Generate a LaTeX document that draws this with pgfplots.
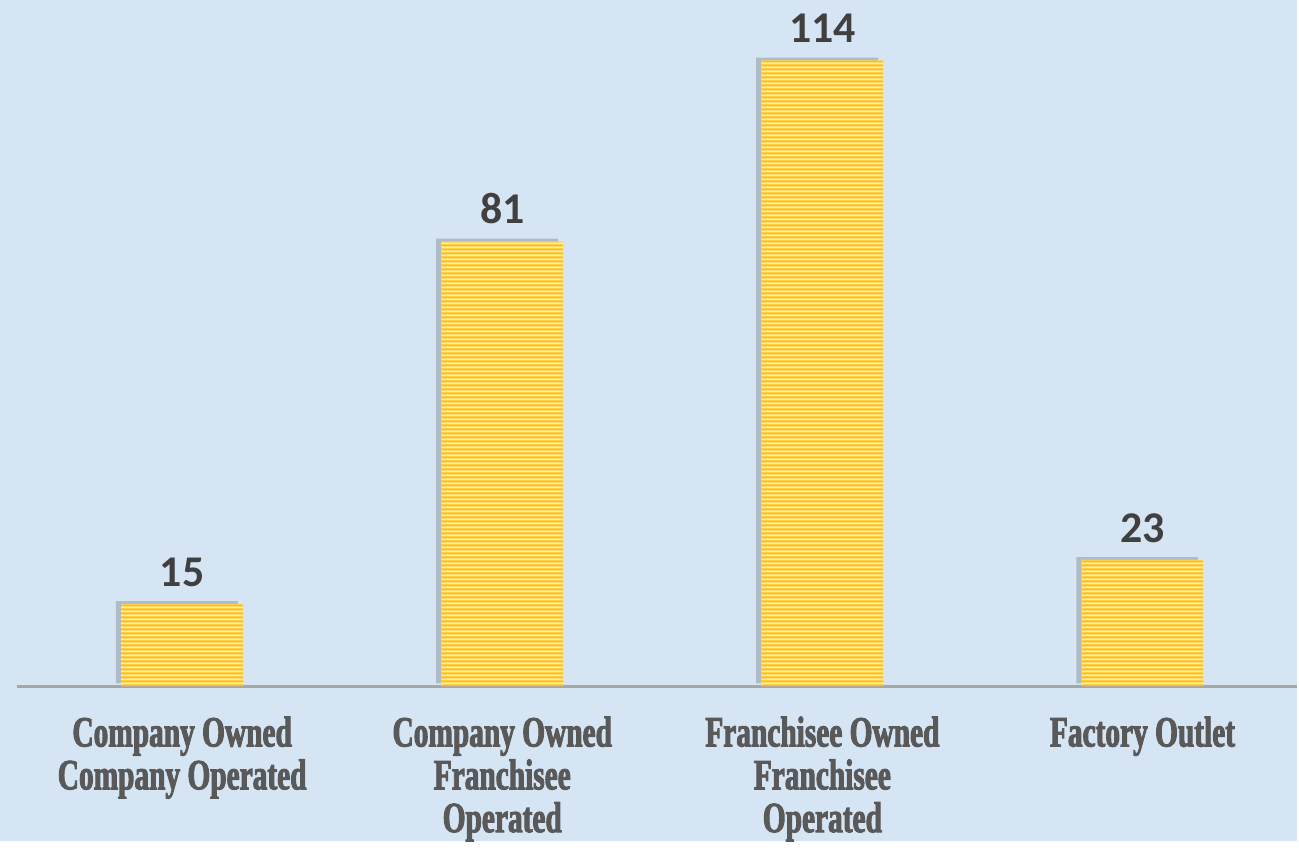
\documentclass[border=0pt]{standalone}
\usepackage{pgfplots}
\pgfplotsset{compat=1.18}
\usetikzlibrary{patterns}
\usepackage{fontspec}
\setmainfont{Liberation Serif}
\newfontfamily\calib{Carlito}
\newfontfamily\tickfont[FakeStretch=0.68, BoldFont={Liberation Serif Bold}, BoldFeatures={FakeStretch=0.68, FakeBold=2.2}]{Liberation Serif}
\definecolor{bgblue}{RGB}{214,229,244}
\definecolor{bargold}{RGB}{255,192,0}
\definecolor{barlight}{RGB}{255,236,175}
\definecolor{axisgray}{RGB}{166,166,166}
\definecolor{tickgray}{RGB}{89,89,89}
\definecolor{valgray}{RGB}{64,64,64}
% wide, flat tile: one gold stripe per period, no seams across a bar
\pgfdeclarepatternformonly{hstripes}{\pgfqpoint{0pt}{0pt}}{\pgfqpoint{100pt}{1.19pt}}{\pgfqpoint{100pt}{1.19pt}}{%
  \pgfpathrectangle{\pgfqpoint{0pt}{0.25pt}}{\pgfqpoint{100pt}{0.68pt}}\pgfusepath{fill}}
\begin{document}
\begin{tikzpicture}
\fill[bgblue] (0,0) rectangle (12.99,8.42);
\begin{axis}[
    at={(0.17cm,1.55cm)}, anchor=south west,
    scale only axis,
    width=12.82cm, height=6.87cm,
    ybar, bar width=1.22cm, bar shift=0pt,
    xmin=-0.516, xmax=3.484,
    ymin=0, ymax=125,
    clip=false,
    axis y line=none,
    axis x line=bottom,
    x axis line style={-, draw=axisgray, line width=0.9pt},
    major tick length=0pt,
    ytick=\empty,
    xtick={0,1,2,3},
    xticklabels={{Company Owned\\Company Operated},{Company Owned\\Franchisee\\Operated},{Franchisee Owned\\Franchisee\\Operated},{Factory Outlet}},
    xticklabel style={align=center, text=tickgray, font=\tickfont\bfseries\fontsize{12.3}{12.2}\selectfont, yshift=-0.18cm},
    nodes near coords={\calib\bfseries\pgfmathprintnumber[assume math mode=true]{\pgfplotspointmeta}},
    every node near coord/.append style={font=\calib\bfseries\fontsize{12.5}{14}\selectfont, text=valgray, yshift=0.05cm},
]
\addplot[draw=none,
    preaction={fill=black, fill opacity=0.18, transform canvas={xshift=-1.5pt, yshift=0.8pt}},
    preaction={fill=barlight},
    pattern=hstripes,
    pattern color=bargold]
    coordinates {(0,15) (1,81) (2,114) (3,23)};
\end{axis}
\end{tikzpicture}
\end{document}
